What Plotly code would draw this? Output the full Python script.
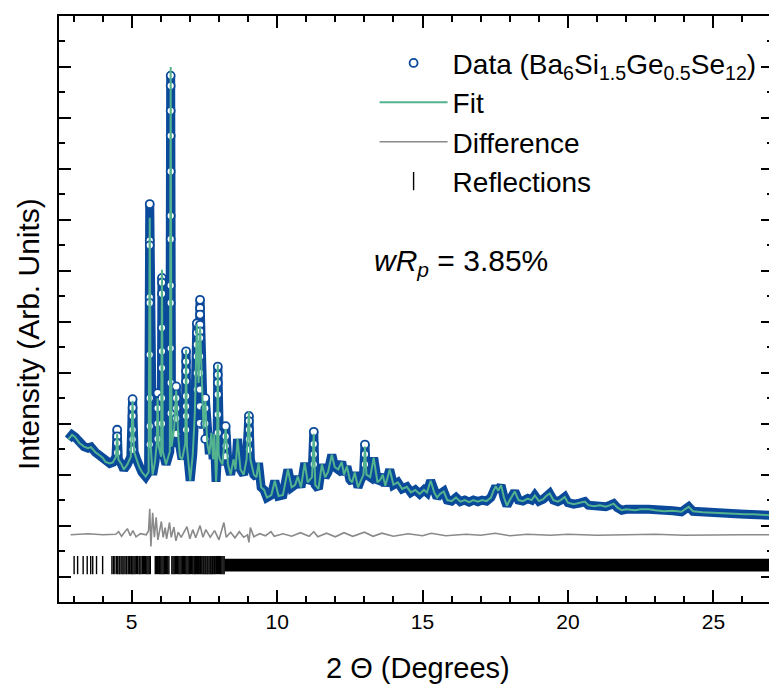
import plotly.graph_objects as go

# ---------------- data ----------------
# 2-theta positions and observed intensity (arb. units, major tick = 1)
x_a = [2.82, 2.95, 3.05, 3.2, 3.36, 3.5, 3.6, 3.75, 3.87, 4.0, 4.1, 4.25, 4.35, 4.46, 4.5, 4.54, 4.65, 4.73, 4.85, 4.97, 5.03, 5.08, 5.18, 5.25, 5.35, 5.48]
y_a = [2.69, 2.78, 2.74, 2.62, 2.55, 2.52, 2.54, 2.44, 2.39, 2.33, 2.25, 2.22, 2.24, 2.35, 2.88, 2.3, 2.2, 2.1, 2.2, 2.35, 3.48, 2.45, 2.28, 2.16, 2.05, 1.96]

x_b = [5.58, 5.62, 5.66, 5.72, 5.8, 5.86, 5.89, 5.93, 6.01, 6.04, 6.07, 6.18, 6.31, 6.34, 6.37, 6.46, 6.53, 6.6, 6.66, 6.73, 6.84, 6.87, 6.9, 6.94, 7.01]
y_b = [2.05, 7.31, 2.5, 2.0, 2.25, 2.6, 3.6, 2.55, 2.35, 5.86, 2.45, 2.2, 2.45, 9.82, 2.55, 2.9, 3.73, 2.75, 2.35, 2.3, 2.6, 4.42, 2.55, 2.3, 1.88]

x_c = [7.1, 7.17, 7.24, 7.3, 7.35, 7.42, 7.47, 7.53, 7.6, 7.67, 7.74, 7.8, 7.84, 7.9, 7.93, 7.96, 7.99, 8.03, 8.12, 8.23, 8.31, 8.4, 8.5, 8.57, 8.64, 8.74, 8.85, 8.95, 9.03]
y_c = [2.4, 3.2, 4.97, 3.8, 5.43, 3.6, 2.9, 3.5, 2.6, 2.4, 2.82, 2.3, 2.8, 1.86, 2.2, 4.12, 2.4, 2.3, 2.2, 2.95, 2.2, 2.0, 2.3, 2.1, 2.7, 2.1, 2.0, 2.3, 3.15]

x_d = [9.08, 9.2, 9.29, 9.36, 9.45, 9.55, 9.65, 9.8, 9.92, 10.05, 10.2, 10.37, 10.5, 10.62, 10.71, 10.82, 10.95, 11.05, 11.2, 11.26, 11.31, 11.42, 11.54, 11.65, 11.75, 11.88, 11.98, 12.1, 12.22, 12.3, 12.4, 12.5, 12.58, 12.67, 12.78, 12.88, 12.97, 13.02]
y_d = [2.3, 2.0, 1.95, 2.23, 1.75, 1.7, 1.55, 1.6, 1.88, 1.58, 1.6, 2.1, 1.75, 1.8, 1.96, 1.75, 2.23, 1.85, 1.95, 2.84, 1.8, 1.72, 2.2, 1.95, 2.05, 2.39, 2.15, 2.1, 2.25, 2.0, 2.16, 1.9, 1.85, 2.04, 1.75, 1.9, 2.0, 2.59]

x_e = [13.07, 13.2, 13.32, 13.45, 13.55, 13.63, 13.72, 13.87, 14.0, 14.15, 14.3, 14.46, 14.6, 14.75, 14.9, 15.05, 15.15, 15.28, 15.4, 15.5, 15.6, 15.73, 15.85, 16.0, 16.15, 16.3, 16.45, 16.6, 16.75, 16.9, 17.05, 17.2, 17.35, 17.45, 17.52, 17.6, 17.7, 17.8, 17.9]
y_e = [2.0, 1.95, 2.33, 1.85, 1.9, 2.0, 1.78, 2.1, 1.8, 1.85, 1.72, 1.76, 1.65, 1.7, 1.62, 1.7, 1.65, 1.88, 1.65, 1.55, 1.62, 1.67, 1.5, 1.48, 1.55, 1.47, 1.5, 1.46, 1.5, 1.47, 1.5, 1.48, 1.55, 1.7, 1.77, 1.68, 1.79, 1.55, 1.39]

x_f = [18.0, 18.17, 18.3, 18.45, 18.62, 18.75, 18.86, 19.0, 19.15, 19.25, 19.37, 19.5, 19.65, 19.75, 19.89, 20.0, 20.2, 20.4, 20.58, 20.7, 20.9, 21.1, 21.3, 21.45, 21.57, 21.7, 21.85, 22.0, 22.3, 22.5, 22.77, 23.0, 23.3, 23.6, 23.9, 24.15, 24.3, 24.63, 24.9, 25.2, 25.5, 25.77, 26.1, 26.4, 26.7, 26.98]
y_f = [1.5, 1.67, 1.5, 1.48, 1.53, 1.5, 1.59, 1.48, 1.52, 1.58, 1.63, 1.5, 1.47, 1.5, 1.56, 1.45, 1.42, 1.44, 1.47, 1.4, 1.38, 1.4, 1.37, 1.4, 1.43, 1.35, 1.3, 1.32, 1.3, 1.32, 1.32, 1.3, 1.28, 1.29, 1.27, 1.37, 1.28, 1.26, 1.25, 1.25, 1.24, 1.23, 1.22, 1.22, 1.21, 1.2]

# fitted values where the fit differs visibly from the data
fit_peaks = {4.5: 2.8, 5.03: 3.45, 5.62: 7.04, 5.89: 3.5, 6.04: 6.02, 6.34: 10.0,
             6.53: 3.65, 6.87: 4.45, 7.24: 4.95, 7.35: 4.9, 7.53: 3.45, 7.96: 4.16,
             8.23: 2.9, 9.03: 3.24, 11.26: 2.8, 13.02: 2.55}

# columns of data circles on the strong peaks
circle_peaks = [4.5, 5.03, 5.62, 5.89, 6.04, 6.34, 6.53, 6.87, 7.24, 7.35, 7.53, 7.96, 8.23, 9.03, 11.26, 13.02]
circle_levels = [
    [2.88, 2.75, 2.62, 2.43],
    [3.48, 3.31, 3.15, 2.88, 2.69, 2.49],
    [7.31, 6.59, 6.5, 5.48, 5.37, 4.35, 3.5, 2.95, 2.59],
    [3.6, 3.3, 3.0, 2.7],
    [5.86, 5.77, 5.55, 4.88, 4.42, 4.09, 3.5, 3.0],
    [9.83, 9.63, 9.14, 8.65, 7.95, 7.08, 6.62, 5.71, 5.37, 4.48, 3.8, 3.2],
    [3.73, 3.5, 3.3, 3.1, 2.8],
    [4.42, 4.22, 4.03, 3.83, 3.54, 3.34, 3.15, 2.88],
    [4.97, 4.78, 4.55, 4.32, 3.99, 3.67],
    [5.43, 5.27, 5.14, 4.94, 4.81, 4.68, 4.32, 3.99, 3.67, 3.34, 3.01],
    [3.5, 3.3, 3.0, 2.7],
    [4.12, 3.96, 3.8, 3.57, 3.18, 2.82],
    [2.95, 2.75, 2.56, 2.36],
    [3.15, 3.05, 2.88, 2.69, 2.49],
    [2.84, 2.6, 2.4, 2.2],
    [2.59, 2.4, 2.2],
]

# difference curve (obs - calc)
diff_x = [2.9, 3.5, 4.0, 4.45, 4.55, 4.65, 4.85, 4.95, 5.04, 5.15, 5.3, 5.5, 5.58, 5.62, 5.66, 5.72, 5.78, 5.84, 5.9, 5.96, 6.02, 6.08, 6.15, 6.2, 6.3, 6.36, 6.45, 6.52, 6.6, 6.7, 6.9, 7.0, 7.1, 7.2, 7.35, 7.45, 7.55, 7.7, 7.85, 8.0, 8.17, 8.25, 8.4, 8.55, 8.7, 8.85, 8.98, 9.03, 9.08, 9.2, 9.4, 9.6, 9.79, 9.9, 10.2, 10.5, 10.8, 11.1, 11.26, 11.4, 11.7, 12.0, 12.3, 12.6, 13.0, 13.3, 13.6, 14.0, 14.5, 15.0, 15.3, 15.8, 16.5, 17.0, 17.5, 18.0, 18.6, 19.4, 20.0, 21.0, 22.0, 23.0, 24.0, 25.0, 26.0, 26.98]
diff_y = [0.0, 0.02, 0.0, 0.01, 0.06, -0.03, 0.12, -0.02, 0.08, -0.04, 0.02, 0.0, 0.08, 0.51, -0.23, 0.43, -0.05, 0.34, -0.1, 0.1, 0.26, -0.05, 0.14, -0.08, 0.24, -0.05, 0.15, -0.12, 0.05, -0.05, 0.16, -0.08, 0.1, -0.06, 0.18, -0.05, 0.1, -0.05, 0.08, -0.1, 0.24, -0.05, 0.05, -0.06, 0.06, -0.05, 0.0, -0.15, 0.14, -0.04, 0.02, -0.02, 0.06, -0.03, 0.02, -0.03, 0.04, -0.03, 0.06, -0.04, 0.03, -0.04, 0.04, -0.03, 0.05, -0.03, 0.03, -0.03, 0.02, -0.02, 0.03, -0.02, 0.01, -0.01, 0.03, -0.02, 0.01, -0.01, 0.01, -0.01, 0.0, 0.01, -0.01, 0.0, 0.0, 0.0]

# reflection positions (resolved ticks) and the unresolved dense range
refl_x = [3.02, 3.14, 3.33, 3.47, 3.59, 3.66, 3.79, 4.0,
          4.32, 4.37, 4.42, 4.48, 4.52, 4.57, 4.6, 4.66, 4.7, 4.74, 4.8, 4.83, 4.88, 4.92, 4.97, 5.0,
          5.04, 5.08, 5.12, 5.17, 5.2, 5.25, 5.28, 5.32, 5.37, 5.4, 5.44, 5.48, 5.52, 5.56, 5.6, 5.64,
          5.81, 5.85, 5.89, 5.93, 5.96, 6.0, 6.04, 6.08, 6.12, 6.16, 6.2, 6.24, 6.28, 6.38, 6.42, 6.46,
          6.5, 6.54, 6.58, 6.62, 6.66, 6.7, 6.74, 6.78, 6.82, 6.86, 6.9, 6.94, 6.98, 7.02, 7.06, 7.1,
          7.14, 7.17, 7.2, 7.23, 7.27, 7.3, 7.34, 7.37, 7.41, 7.45, 7.48, 7.52, 7.55, 7.59, 7.62, 7.66,
          7.7, 7.73, 7.77, 7.8, 7.84, 7.87, 7.91, 7.95, 7.98, 8.02, 8.06, 8.1, 8.14, 8.18]
refl_dense_range = [8.2, 27.0]

# ---------------- styling / placement ----------------
data_x = x_a + x_b + x_c + x_d + x_e + x_f
data_y = y_a + y_b + y_c + y_d + y_e + y_f
fit_y = [fit_peaks.get(x, y) for x, y in zip(data_x, data_y)]

circ_x, circ_y = [], []
for px, levels in zip(circle_peaks, circle_levels):
    for lv in levels:
        circ_x.append(px)
        circ_y.append(lv)

DIFF_OFFSET = 0.82
REFL_LEVEL = 0.225
REFL_HALF = 0.125

BLUE = "#0b4a9b"
GREEN = "#52b38e"
GREY = "#8a8a8a"
FONT = "Liberation Sans, Arial, sans-serif"

fig = go.Figure()

# unresolved dense reflections
fig.add_trace(go.Scatter(
    x=[refl_dense_range[0], refl_dense_range[1], refl_dense_range[1], refl_dense_range[0]],
    y=[REFL_LEVEL - REFL_HALF, REFL_LEVEL - REFL_HALF, REFL_LEVEL + REFL_HALF, REFL_LEVEL + REFL_HALF],
    fill="toself", fillcolor="black", mode="none", showlegend=False, hoverinfo="skip"))
# resolved reflections
fig.add_trace(go.Scatter(
    x=refl_x, y=[REFL_LEVEL] * len(refl_x), mode="markers", name="Reflections",
    marker=dict(symbol="line-ns", size=13, line=dict(color="black", width=1.4)),
    legendrank=4))
# difference
fig.add_trace(go.Scatter(
    x=diff_x, y=[d + DIFF_OFFSET for d in diff_y], mode="lines", name="Difference",
    line=dict(color=GREY, width=1.6), legendrank=3))
# data band (dense overlapping circles)
fig.add_trace(go.Scatter(
    x=data_x, y=data_y, mode="lines", showlegend=False, hoverinfo="skip",
    line=dict(color=BLUE, width=9)))
# data circles on peaks
fig.add_trace(go.Scatter(
    x=circ_x, y=circ_y, mode="markers",
    name="Data (Ba<sub>6</sub>Si<sub>1.5</sub>Ge<sub>0.5</sub>Se<sub>12</sub>)",
    marker=dict(symbol="circle", size=8, color="white", line=dict(color=BLUE, width=1.8)),
    legendrank=1))
# fit
fig.add_trace(go.Scatter(
    x=data_x, y=fit_y, mode="lines", name="Fit",
    line=dict(color=GREEN, width=2), legendrank=2))

axis_common = dict(showline=True, linecolor="black", linewidth=2, mirror="ticks",
                   ticks="inside", tickwidth=2, ticklen=12, tickcolor="black",
                   showgrid=False, zeroline=False)

fig.update_xaxes(range=[2.5, 27.05], dtick=5, tick0=0,
                 tickfont=dict(family=FONT, size=21, color="black"),
                 minor=dict(dtick=1, ticks="inside", ticklen=6, tickwidth=2, tickcolor="black", showgrid=False),
                 **axis_common)
fig.update_yaxes(range=[-0.5, 11.0], dtick=1, tick0=0, showticklabels=False,
                 minor=dict(dtick=0.5, ticks="inside", ticklen=6, tickwidth=2, tickcolor="black", showgrid=False),
                 **axis_common)

# the page body adds an 8 px offset, so the figure is 8 px smaller and shifted
fig.update_layout(
    width=769, height=684,
    margin=dict(l=51, r=2, t=8, b=90),
    plot_bgcolor="white", paper_bgcolor="white",
    font=dict(family=FONT, size=28, color="black"),
    legend=dict(x=0.442, y=0.962, xanchor="left", yanchor="top",
                bgcolor="rgba(0,0,0,0)", font=dict(family=FONT, size=28, color="black"),
                itemwidth=68, tracegroupgap=0),
    annotations=[
        dict(text="<i>wR</i><sub><i>p</i></sub> = 3.85%", xref="paper", yref="paper",
             x=0.4385, y=0.58, xanchor="left", yanchor="middle", showarrow=False,
             font=dict(family=FONT, size=30, color="black")),
        dict(text="Intensity (Arb. Units)", xref="paper", yref="paper", textangle=-90,
             x=-0.043, y=0.458, xanchor="center", yanchor="middle", showarrow=False,
             font=dict(family=FONT, size=30, color="black")),
        dict(text="2 \u0398 (Degrees)", xref="paper", yref="paper",
             x=0.503, y=-0.112, xanchor="center", yanchor="middle", showarrow=False,
             font=dict(family=FONT, size=29, color="black")),
    ],
)

fig.write_html("out.html")
